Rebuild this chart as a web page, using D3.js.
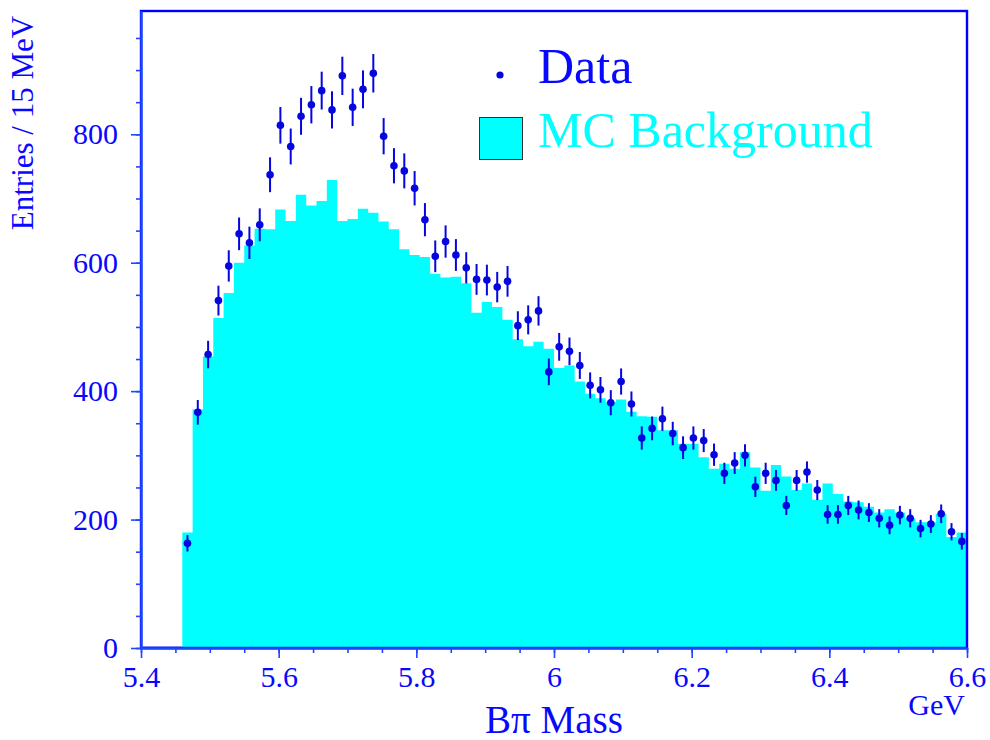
<!DOCTYPE html>
<html>
<head>
<meta charset="utf-8">
<script src="https://cdn.jsdelivr.net/npm/d3@7/dist/d3.min.js"></script>
<style>
  html, body { margin: 0; padding: 0; background: #ffffff; }
  svg { display: block; }
  text { font-family: "Liberation Serif", "DejaVu Serif", serif; }
</style>
</head>
<body>
<div id="chart"></div>
<script>
// ---------------- DATA ----------------
// Bin centres (GeV), 15 MeV bins from 5.4 to 6.6
const binCenters = [
  5.4075, 5.4225, 5.4375, 5.4525, 5.4675, 5.4825, 5.4975, 5.5125, 5.5275, 5.5425,
  5.5575, 5.5725, 5.5875, 5.6025, 5.6175, 5.6325, 5.6475, 5.6625, 5.6775, 5.6925,
  5.7075, 5.7225, 5.7375, 5.7525, 5.7675, 5.7825, 5.7975, 5.8125, 5.8275, 5.8425,
  5.8575, 5.8725, 5.8875, 5.9025, 5.9175, 5.9325, 5.9475, 5.9625, 5.9775, 5.9925,
  6.0075, 6.0225, 6.0375, 6.0525, 6.0675, 6.0825, 6.0975, 6.1125, 6.1275, 6.1425,
  6.1575, 6.1725, 6.1875, 6.2025, 6.2175, 6.2325, 6.2475, 6.2625, 6.2775, 6.2925,
  6.3075, 6.3225, 6.3375, 6.3525, 6.3675, 6.3825, 6.3975, 6.4125, 6.4275, 6.4425,
  6.4575, 6.4725, 6.4875, 6.5025, 6.5175, 6.5325, 6.5475, 6.5625, 6.5775, 6.5925
];
const binWidth = 0.015;

// MC background histogram (entries per bin)
const mcBackground = [
  0, 0, 0, 0, 180, 372, 454, 514, 553, 600,
  627, 653, 652, 683, 665, 706, 689, 696, 729, 665,
  668, 684, 678, 664, 652, 621, 612, 609, 583, 577,
  578, 568, 522, 539, 531, 511, 481, 470, 477, 466,
  436, 440, 415, 396, 389, 383, 387, 368, 361, 360,
  339, 339, 318, 318, 297, 279, 287, 279, 305, 281,
  245, 285, 267, 246, 256, 231, 256, 240, 228, 227,
  220, 211, 216, 211, 202, 196, 196, 209, 173, 180
];

// Data points (entries per bin); null = no point drawn
const dataCounts = [
  null, null, null, null, 163, 367, 457, 541, 595, 645,
  631, 659, 737, 814, 781, 828, 846, 868, 838, 891,
  842, 870, 895, 797, 751, 743, 716, 667, 610, 633,
  612, 592, 574, 573, 562, 571, 502, 511, 525, 430,
  469, 462, 440, 409, 402, 382, 415, 380, 327, 342,
  357, 334, 312, 327, 323, 301, 272, 288, 300, 251,
  272, 261, 222, 261, 274, 246, 208, 208, 222, 215,
  211, 202, 191, 207, 202, 186, 193, 209, 181, 166
];

const xMajorTicks = [5.4, 5.6, 5.8, 6.0, 6.2, 6.4, 6.6];
const xTickLabels = ["5.4", "5.6", "5.8", "6", "6.2", "6.4", "6.6"];
const yMajorTicks = [0, 200, 400, 600, 800];

// ---------------- LAYOUT ----------------
const W = 990, H = 740;
const pL = 141, pR = 967, pT = 11, pB = 648;
const axisColor = "#1e46ff";
const textBlue = "#0808ff";
const dotBlue = "#0505e0";
const cyan = "#00ffff";

const svg = d3.select("#chart").append("svg")
  .attr("width", W).attr("height", H);
svg.append("rect").attr("width", W).attr("height", H).attr("fill", "#fff");

const x = d3.scaleLinear().domain([5.4, 6.6]).range([pL, pR]);
const y = d3.scaleLinear().domain([0, 992]).range([pB, pT]);

// Histogram (step area)
const histPts = binCenters.map((c, i) => ({ x: c - binWidth / 2, v: mcBackground[i] }));
histPts.push({ x: binCenters[binCenters.length - 1] + binWidth / 2, v: mcBackground[mcBackground.length - 1] });
const area = d3.area()
  .x(d => x(d.x))
  .y0(y(0))
  .y1(d => y(d.v))
  .curve(d3.curveStepAfter);
svg.append("path")
  .datum(histPts)
  .attr("d", area)
  .attr("fill", cyan)
  .attr("stroke", "none");

// empty-bin outline at zero level
const firstFilled = mcBackground.findIndex(v => v > 0);
svg.append("line")
  .attr("x1", x(5.4)).attr("x2", x(binCenters[firstFilled] - binWidth / 2))
  .attr("y1", y(0) - 1.5).attr("y2", y(0) - 1.5)
  .attr("stroke", "#9fb0ff").attr("stroke-width", 1);

// Frame
svg.append("rect")
  .attr("x", pL).attr("y", pT)
  .attr("width", pR - pL).attr("height", pB - pT)
  .attr("fill", "none").attr("stroke", "#0000ff").attr("stroke-width", 2.4);

// Data points with error bars
const pts = binCenters.map((c, i) => ({ c, v: dataCounts[i] })).filter(d => d.v !== null);
const g = svg.append("g");
g.selectAll("line.err").data(pts).enter().append("line")
  .attr("class", "err")
  .attr("x1", d => x(d.c)).attr("x2", d => x(d.c))
  .attr("y1", d => y(d.v + Math.sqrt(d.v))).attr("y2", d => y(d.v - Math.sqrt(d.v)))
  .attr("stroke", dotBlue).attr("stroke-width", 2);
g.selectAll("circle.pt").data(pts).enter().append("circle")
  .attr("class", "pt")
  .attr("cx", d => x(d.c)).attr("cy", d => y(d.v)).attr("r", 3.8)
  .attr("fill", dotBlue);

// Axes
function styleAxis(sel) {
  sel.selectAll("path.domain").attr("stroke", axisColor).attr("stroke-width", 2);
  sel.selectAll(".tick line").attr("stroke", axisColor).attr("stroke-width", 1.6);
  sel.selectAll(".tick text")
    .attr("fill", textBlue)
    .style("font-family", '"Liberation Serif", serif')
    .style("font-size", "30px");
}

const xMinor = d3.range(0, 25).map(i => +(5.4 + i * 0.05).toFixed(2));
svg.append("g").attr("transform", `translate(0,${pB})`)
  .call(d3.axisBottom(x).tickValues(xMinor).tickSize(5).tickFormat("").tickSizeOuter(0))
  .call(styleAxis);
svg.append("g").attr("transform", `translate(0,${pB})`)
  .call(d3.axisBottom(x).tickValues(xMajorTicks).tickSize(10).tickPadding(8)
        .tickSizeOuter(0)
        .tickFormat((d, i) => xTickLabels[i]))
  .call(styleAxis);

const yMinor = d3.range(0, 20).map(i => i * 50);
svg.append("g").attr("transform", `translate(${pL},0)`)
  .call(d3.axisLeft(y).tickValues(yMinor).tickSize(5).tickFormat("").tickSizeOuter(0))
  .call(styleAxis);
svg.append("g").attr("transform", `translate(${pL},0)`)
  .call(d3.axisLeft(y).tickValues(yMajorTicks).tickSize(10).tickPadding(13)
        .tickSizeOuter(0).tickFormat(d3.format("d")))
  .call(styleAxis);

// Axis titles
svg.append("text")
  .attr("transform", `translate(33,123) rotate(-90)`)
  .attr("text-anchor", "middle")
  .attr("fill", textBlue)
  .style("font-size", "31px")
  .text("Entries / 15 MeV");

svg.append("text")
  .attr("x", 554).attr("y", 733)
  .attr("text-anchor", "middle")
  .attr("fill", textBlue)
  .style("font-size", "39px")
  .text("B\u03c0 Mass");

svg.append("text")
  .attr("x", 965).attr("y", 715)
  .attr("text-anchor", "end")
  .attr("fill", textBlue)
  .style("font-size", "30px")
  .text("GeV");

// Legend
const legend = svg.append("g");
legend.append("circle").attr("cx", 500).attr("cy", 75).attr("r", 3.6).attr("fill", dotBlue);
legend.append("text").attr("x", 538).attr("y", 83)
  .attr("fill", textBlue).style("font-size", "50px").text("Data");
legend.append("rect").attr("x", 479.5).attr("y", 117.5).attr("width", 43).attr("height", 42)
  .attr("fill", cyan).attr("stroke", "#333").attr("stroke-width", 1);
legend.append("text").attr("x", 538).attr("y", 147)
  .attr("fill", cyan).style("font-size", "50px").text("MC Background");
</script>
</body>
</html>
